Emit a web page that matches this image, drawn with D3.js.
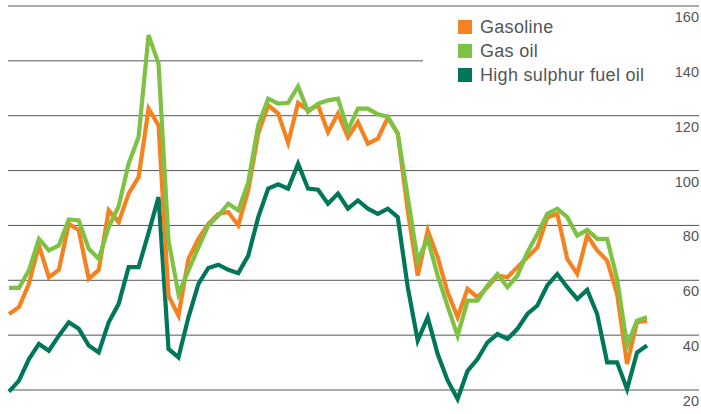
<!DOCTYPE html>
<html>
<head>
<meta charset="utf-8">
<script src="https://cdn.jsdelivr.net/npm/d3@7"></script>
<style>
  body { margin: 0; background: #fff; }
  svg { display: block; font-family: "Liberation Sans", Arial, sans-serif; }
</style>
</head>
<body>
<script>
let width = 701;
let height = 414;

let seriesNames = ["Gasoline", "Gas oil", "High sulphur fuel oil"];
let seriesColors = ["#f58220", "#7dc242", "#00775a"];
let yTicks = [20, 40, 60, 80, 100, 120, 140, 160];

let gasoline = [47.7, 50.2, 58.7, 72.7, 61.1, 63.8, 80.6, 78.2, 60.5, 63.8,
  85.5, 81.2, 91.6, 97.6, 122.6, 116.5, 54.4, 47.1, 67.8, 75.1,
  80.6, 84.2, 84.9, 80, 92.8, 113.5, 123.8, 120.8, 110.1, 124.7,
  122, 123.8, 114, 120.8, 112.2, 117.7, 109.8, 111.6, 119.3, 113.5,
  85.5, 61.7, 78.2, 68.4, 55.6, 46.5, 56.9, 53.8, 57.5, 61.7,
  61.1, 64.8, 68.4, 72, 83, 84.2, 67.8, 62.3, 76.3, 70.9,
  67.2, 55, 29.5, 44.7, 45.3];

let gasOil = [57.2, 57.2, 63.6, 75.1, 70.9, 72.7, 82.2, 81.8, 71.5, 67.8,
  79.4, 87, 102.5, 112.2, 149.4, 139, 74.5, 55, 63.6, 72,
  80, 83.6, 87.9, 85.5, 95.8, 116.5, 126.2, 124.4, 124.7, 130.7,
  121.4, 124.4, 125.6, 126.2, 114.7, 122.6, 122.6, 120.5, 119.6, 113.5,
  90.3, 67.2, 75.1, 61.7, 50.5, 39.8, 52.6, 52.6, 58.1, 62.3,
  57.5, 61.7, 70.2, 76.9, 84.2, 86.1, 83, 76.3, 78.4, 75.1,
  75.1, 60.5, 36.2, 45.3, 46.5];

let fuelOil = [19.4, 23.4, 31.3, 36.8, 34.3, 39.8, 44.7, 42.3, 36.2, 33.7,
  44.7, 51.4, 64.8, 64.8, 77.3, 90.3, 35, 31.9, 46.5, 58.7,
  64.5, 65.7, 63.8, 62.6, 69, 83, 93.4, 95, 93.4, 102.5,
  93.4, 93, 87.9, 91.6, 86.1, 89.1, 86.1, 84.2, 86.1, 83,
  57.5, 38, 46.5, 33.1, 23.5, 16.7, 27, 31.3, 37.4, 40.4,
  38.6, 42.3, 47.7, 50.8, 58.1, 62.3, 57.5, 53.2, 56.5, 47.7,
  30.1, 30.1, 20.3, 33.7, 36.2];

let svg = d3.select("body").append("svg")
  .attr("width", width)
  .attr("height", height);

let scaleX = d3.scaleLinear().domain([0, gasoline.length - 1]).range([9, 647]);
let scaleY = d3.scaleLinear().domain([20, 160]).range([390, 6]);

// gridlines, the 140 one stops short of the legend
svg.append("g").selectAll("line").data(yTicks).enter().append("line")
  .attr("x1", 8)
  .attr("x2", (d) => d == 140 ? 423 : 699)
  .attr("y1", (d) => scaleY(d))
  .attr("y2", (d) => scaleY(d))
  .attr("stroke", "#555")
  .attr("stroke-width", 1);

svg.append("g").selectAll("text").data(yTicks).enter().append("text")
  .attr("x", 699)
  .attr("y", (d) => scaleY(d) + 16)
  .attr("text-anchor", "end")
  .attr("font-size", "14.5px")
  .attr("fill", "#555")
  .text((d) => d);

let line = d3.line()
  .x((d, i) => scaleX(i))
  .y((d) => scaleY(d));

let DrawSeries = (data, color) =>
{
  svg.append("path")
    .datum(data)
    .attr("d", line)
    .attr("fill", "none")
    .attr("stroke", color)
    .attr("stroke-width", 4.2);
}

DrawSeries(fuelOil, seriesColors[2]);
DrawSeries(gasoline, seriesColors[0]);
DrawSeries(gasOil, seriesColors[1]);

let legend = svg.append("g").selectAll("g").data(seriesNames).enter().append("g")
  .attr("transform", (d, i) => "translate(458," + (20 + i * 24) + ")");
legend.append("rect")
  .attr("width", 14)
  .attr("height", 14)
  .attr("fill", (d, i) => seriesColors[i]);
legend.append("text")
  .attr("x", 22)
  .attr("y", 13)
  .attr("font-size", "18px")
  .attr("letter-spacing", "0.3px")
  .attr("fill", "#555")
  .text((d) => d);
</script>
</body>
</html>
